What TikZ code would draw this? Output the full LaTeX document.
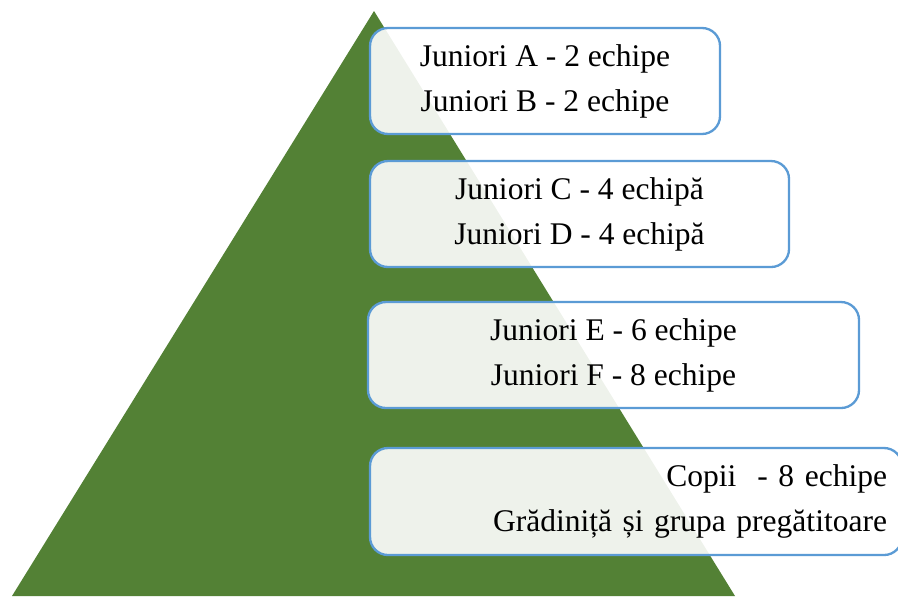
\documentclass[tikz,border=0pt]{standalone}
\usepackage{fontspec}
\setmainfont{Liberation Serif}
\definecolor{pyrgreen}{HTML}{538135}
\definecolor{tierblue}{HTML}{5B9BD5}
\tikzset{
  tier/.style={draw=tierblue, line width=2.2pt, rounded corners=0.6cm,
    fill=white, fill opacity=0.9, text opacity=1, inner sep=0pt,
    align=center, font=\fontsize{29.9}{42.7}\selectfont},
}
\begin{document}
\begin{tikzpicture}
\clip (0,0) rectangle (29.933,19.867);

\fill[pyrgreen] (0.4,0) -- (12.467,19.5) -- (24.5,0) -- cycle;


\node[tier, minimum width=11.667cm, minimum height=3.533cm] (ab) at (18.167,17.167)
  {Juniori A - 2 echipe\\Juniori B - 2 echipe};
\node[tier, minimum width=13.967cm, minimum height=3.533cm] (cd) at (19.317,12.733)
  {Juniori C - 4 echipă\\Juniori D - 4 echipă};
\node[tier, minimum width=16.367cm, minimum height=3.533cm] (ef) at (20.45,8.033)
  {Juniori E - 6 echipe\\Juniori F - 8 echipe};


\node[tier, align=right, text width=16.733cm, inner xsep=0.5cm, minimum height=3.567cm] (copii) at (21.2,3.15)
  {Copii\ \ - 8 echipe\\Grădiniță și grupa pregătitoare};
\end{tikzpicture}
\end{document}
